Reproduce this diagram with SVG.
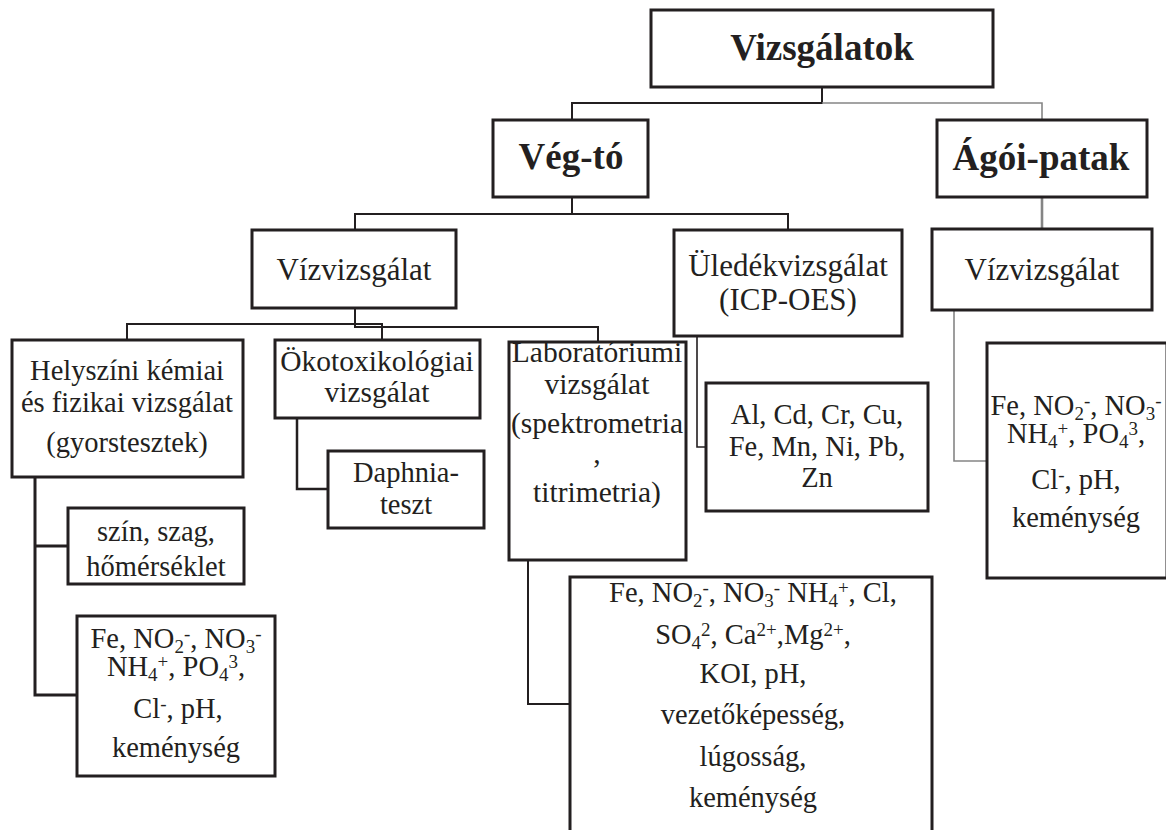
<svg xmlns="http://www.w3.org/2000/svg" width="1166" height="830" viewBox="0 0 1166 830" font-family="'Liberation Serif', 'Times New Roman', Times, serif">
<style>
  .box { fill: #ffffff; stroke: #231f20; stroke-width: 3; }
  text { font-family: 'Liberation Serif', 'Times New Roman', Times, serif; fill: #231f20; text-anchor: middle; font-size: 28.5px; }
  .h1 { font-weight: bold; font-size: 37px; }
  .h3 { font-size: 31px; }
  .lab { font-size: 29.5px; }
  .c { fill: none; stroke: #231f20; stroke-width: 2; }
  .g { fill: none; stroke: #858585; stroke-width: 1.6; }
</style>
<rect width="1166" height="830" fill="#ffffff"/>
<g id="connectors">
  <path class="c" d="M822,87 V103 H572 V120"/>
  <path class="g" d="M822,103 H1042 V120"/>
  <path class="g" style="stroke-width:2.6" d="M1042,197 V229"/>
  <path class="c" d="M572,197 V214 M355,230 V214 H788 V230"/>
  <path class="c" d="M355,308 V327 H598 V342"/>
  <path class="c" d="M127,340 V324 H382 V340"/>
  <path class="c" style="stroke-width:3" d="M35,477 V695 H77 M35,546 H68"/>
  <path class="c" style="stroke-width:2.5" d="M297,418 V489 H328"/>
  <path class="c" d="M528,560 V704 H570"/>
  <path class="c" style="stroke-width:1.6" d="M697,336 V447 H706"/>
  <path class="g" d="M954,310 V461 H987"/>
</g>
<g id="vizsgalatok">
  <rect class="box" x="651" y="10" width="342" height="77"/>
  <text class="h1" x="822" y="60">Vizsgálatok</text>
</g>
<g id="vegto">
  <rect class="box" x="493" y="120" width="155" height="77"/>
  <text class="h1" x="571" y="169">Vég-tó</text>
</g>
<g id="agoi-patak">
  <rect class="box" x="937" y="120" width="210" height="77"/>
  <text class="h1" x="1041" y="170">Ágói-patak</text>
</g>
<g id="vizvizsgalat-veg">
  <rect class="box" x="252" y="230" width="204" height="78"/>
  <text class="h3" x="354" y="280">Vízvizsgálat</text>
</g>
<g id="uledekvizsgalat">
  <rect class="box" x="674" y="230" width="228" height="106"/>
  <text class="h3" x="788" y="276">Üledékvizsgálat</text>
  <text class="h3" x="788" y="310">(ICP-OES)</text>
</g>
<g id="vizvizsgalat-agoi">
  <rect class="box" x="932" y="229" width="220" height="81"/>
  <text class="h3" x="1042" y="280">Vízvizsgálat</text>
</g>
<g id="helyszini">
  <rect class="box" x="12" y="340" width="231" height="137"/>
  <text x="127" y="380">Helyszíni kémiai</text>
  <text x="127" y="412">és fizikai vizsgálat</text>
  <text x="127" y="452">(gyorstesztek)</text>
</g>
<g id="okotox">
  <rect class="box" x="275" y="340" width="205" height="78"/>
  <text class="lab" x="377" y="371">Ökotoxikológiai</text>
  <text class="lab" x="377" y="402">vizsgálat</text>
</g>
<g id="laboratoriumi">
  <rect class="box" x="509" y="342" width="177" height="218"/>
  <text class="lab" x="597" y="362">Laboratóriumi</text>
  <text class="lab" x="597" y="394">vizsgálat</text>
  <text class="lab" x="597" y="433">(spektrometria</text>
  <text class="lab" x="597" y="463">,</text>
  <text class="lab" x="597" y="502">titrimetria)</text>
</g>
<g id="femek">
  <rect class="box" x="706" y="383" width="222" height="128"/>
  <text x="817" y="424">Al, Cd, Cr, Cu,</text>
  <text x="817" y="456">Fe, Mn, Ni, Pb,</text>
  <text x="817" y="487">Zn</text>
</g>
<g id="agoi-parameterek">
  <rect class="box" x="987" y="343" width="180" height="235"/>
  <text x="1076" y="415">Fe, NO<tspan font-size="19" baseline-shift="-5">2</tspan><tspan font-size="19" baseline-shift="8">-</tspan>, NO<tspan font-size="19" baseline-shift="-5">3</tspan><tspan font-size="19" baseline-shift="8">-</tspan></text>
  <text x="1076" y="443">NH<tspan font-size="19" baseline-shift="-5">4</tspan><tspan font-size="19" baseline-shift="8">+</tspan>, PO<tspan font-size="19" baseline-shift="-5">4</tspan><tspan font-size="19" baseline-shift="8">3</tspan>,</text>
  <text x="1076" y="489">Cl<tspan font-size="19" baseline-shift="8">-</tspan>, pH,</text>
  <text x="1076" y="527">keménység</text>
</g>
<g id="daphnia">
  <rect class="box" x="328" y="451" width="156" height="77"/>
  <text x="406" y="482">Daphnia-</text>
  <text x="406" y="514">teszt</text>
</g>
<g id="szin-szag">
  <rect class="box" x="68" y="508" width="176" height="76"/>
  <text x="156" y="541">szín, szag,</text>
  <text x="156" y="576">hőmérséklet</text>
</g>
<g id="helyszini-parameterek">
  <rect class="box" x="77" y="616" width="198" height="160"/>
  <text x="176" y="648">Fe, NO<tspan font-size="19" baseline-shift="-5">2</tspan><tspan font-size="19" baseline-shift="8">-</tspan>, NO<tspan font-size="19" baseline-shift="-5">3</tspan><tspan font-size="19" baseline-shift="8">-</tspan></text>
  <text x="176" y="676">NH<tspan font-size="19" baseline-shift="-5">4</tspan><tspan font-size="19" baseline-shift="8">+</tspan>, PO<tspan font-size="19" baseline-shift="-5">4</tspan><tspan font-size="19" baseline-shift="8">3</tspan>,</text>
  <text x="178" y="718">Cl<tspan font-size="19" baseline-shift="8">-</tspan>, pH,</text>
  <text x="176" y="757">keménység</text>
</g>
<g id="labor-parameterek">
  <rect class="box" x="570" y="577" width="362" height="270"/>
  <text x="753" y="602">Fe, NO<tspan font-size="19" baseline-shift="-5">2</tspan><tspan font-size="19" baseline-shift="8">-</tspan>, NO<tspan font-size="19" baseline-shift="-5">3</tspan><tspan font-size="19" baseline-shift="8">-</tspan> NH<tspan font-size="19" baseline-shift="-5">4</tspan><tspan font-size="19" baseline-shift="8">+</tspan>, Cl,</text>
  <text x="753" y="644">SO<tspan font-size="19" baseline-shift="-5">4</tspan><tspan font-size="19" baseline-shift="8">2</tspan>, Ca<tspan font-size="19" baseline-shift="8">2+</tspan>,Mg<tspan font-size="19" baseline-shift="8">2+</tspan>,</text>
  <text x="753" y="683">KOI, pH,</text>
  <text x="753" y="724">vezetőképesség,</text>
  <text x="753" y="766">lúgosság,</text>
  <text x="753" y="807">keménység</text>
</g>
</svg>
